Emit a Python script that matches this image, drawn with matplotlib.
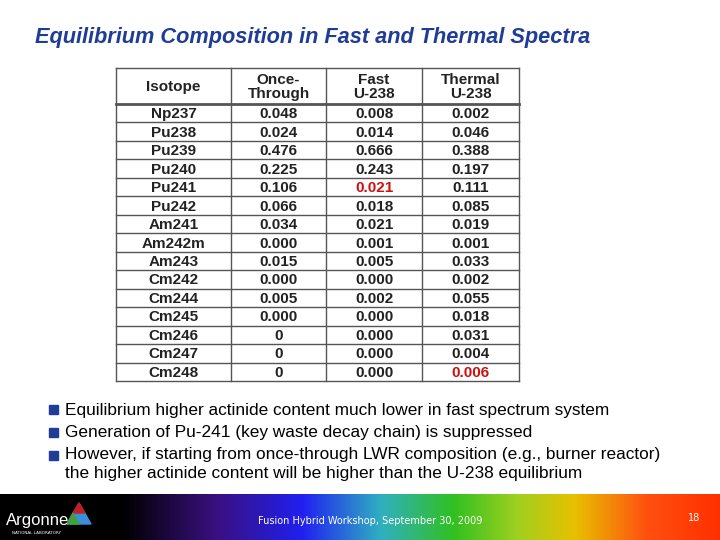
import numpy as np
import matplotlib.pyplot as plt
from matplotlib.patches import Rectangle
from matplotlib.colors import LinearSegmentedColormap

isotopes = ['Np237', 'Pu238', 'Pu239', 'Pu240', 'Pu241', 'Pu242', 'Am241', 'Am242m',
            'Am243', 'Cm242', 'Cm244', 'Cm245', 'Cm246', 'Cm247', 'Cm248']
once_through = ['0.048', '0.024', '0.476', '0.225', '0.106', '0.066', '0.034', '0.000',
                '0.015', '0.000', '0.005', '0.000', '0', '0', '0']
fast_u238 = ['0.008', '0.014', '0.666', '0.243', '0.021', '0.018', '0.021', '0.001',
             '0.005', '0.000', '0.002', '0.000', '0.000', '0.000', '0.000']
thermal_u238 = ['0.002', '0.046', '0.388', '0.197', '0.111', '0.085', '0.019', '0.001',
                '0.033', '0.002', '0.055', '0.018', '0.031', '0.004', '0.006']
headers = ['Isotope', 'Once-\nThrough', 'Fast\nU-238', 'Thermal\nU-238']
red_cells = [(4, 2), (14, 3)]

bullets = ['Equilibrium higher actinide content much lower in fast spectrum system',
           'Generation of Pu-241 (key waste decay chain) is suppressed',
           'However, if starting from once-through LWR composition (e.g., burner reactor)\nthe higher actinide content will be higher than the U-238 equilibrium']

W, H = 720, 540
fig = plt.figure(figsize=(7.2, 5.4), dpi=100)
ax = fig.add_axes([0, 0, 1, 1])
ax.set_xlim(0, W)
ax.set_ylim(H, 0)
ax.axis('off')

ax.text(35, 38, 'Equilibrium Composition in Fast and Thermal Spectra', fontsize=15.7,
        fontweight='bold', style='italic', color='#1f3c96', va='center',
        family='Liberation Sans')

# table
cols = [116, 231, 326, 422, 519]
top, head_bot, bot = 68, 104, 381
rh = (bot - head_bot) / len(isotopes)
for i, h in enumerate(headers):
    cx = (cols[i] + cols[i + 1]) / 2
    ax.text(cx, (top + head_bot) / 2 + 1, h, ha='center', va='center', fontsize=11,
            fontweight='bold', family='Liberation Sans', linespacing=1.0, color='#222222')
for r in range(len(isotopes)):
    row = [isotopes[r], once_through[r], fast_u238[r], thermal_u238[r]]
    cy = head_bot + rh * (r + 0.5)
    for c, v in enumerate(row):
        col = '#cc1111' if (r, c) in red_cells else '#222222'
        ax.text((cols[c] + cols[c + 1]) / 2, cy + 1, v, ha='center', va='center',
                fontsize=11, fontweight='bold', family='Liberation Sans', color=col)
for x in cols:
    ax.plot([x, x], [top, bot], color='#555555', lw=1)
ax.plot([cols[0], cols[-1]], [top, top], color='#555555', lw=1)
ax.plot([cols[0], cols[-1]], [head_bot, head_bot], color='#555555', lw=2)
for r in range(1, len(isotopes) + 1):
    ax.plot([cols[0], cols[-1]], [head_bot + rh * r] * 2, color='#555555', lw=1)

# bullets
ys = [410, 433, 456]
for y, t in zip(ys, bullets):
    ax.add_patch(Rectangle((49, y - 5), 9, 9, color='#1f3c96'))
    ax.text(65, y, t, fontsize=12.4, va='top' if '\n' in t else 'center',
            family='Liberation Sans', color='black', linespacing=1.35)
ax.texts[-1].set_y(447)

# footer gradient bar
cmap = LinearSegmentedColormap.from_list('spec', [
    (0.0, '#000000'), (0.17, '#000000'), (0.3, '#3a1080'), (0.42, '#2020f0'),
    (0.53, '#30b0c0'), (0.63, '#30c020'), (0.72, '#a0d020'), (0.8, '#e8c000'),
    (0.9, '#ff5010'), (1.0, '#ff3000')])
grad = np.linspace(0, 1, 512)[None, :]
ax.imshow(grad, cmap=cmap, extent=[0, W, 540, 494], aspect='auto', zorder=0)
ax.set_xlim(0, W)
ax.set_ylim(H, 0)
ax.text(6, 521, 'Argonne', color='white', fontsize=12, va='center', family='Liberation Sans')
ax.add_patch(plt.Polygon([[79, 503], [67, 524], [91, 524]], color='#3a8fdc'))
ax.add_patch(plt.Polygon([[79, 503], [85, 513], [73, 513]], color='#c02020'))
ax.add_patch(plt.Polygon([[73, 513], [67, 524], [79, 524]], color='#40a040'))
ax.text(12, 533, 'NATIONAL LABORATORY', color='white', fontsize=3, va='center')
ax.text(370, 521, 'Fusion Hybrid Workshop, September 30, 2009', color='white',
        fontsize=7, ha='center', va='center')
ax.text(694, 518, '18', color='white', fontsize=7, ha='center', va='center')

fig.savefig('out.png', dpi=100)
